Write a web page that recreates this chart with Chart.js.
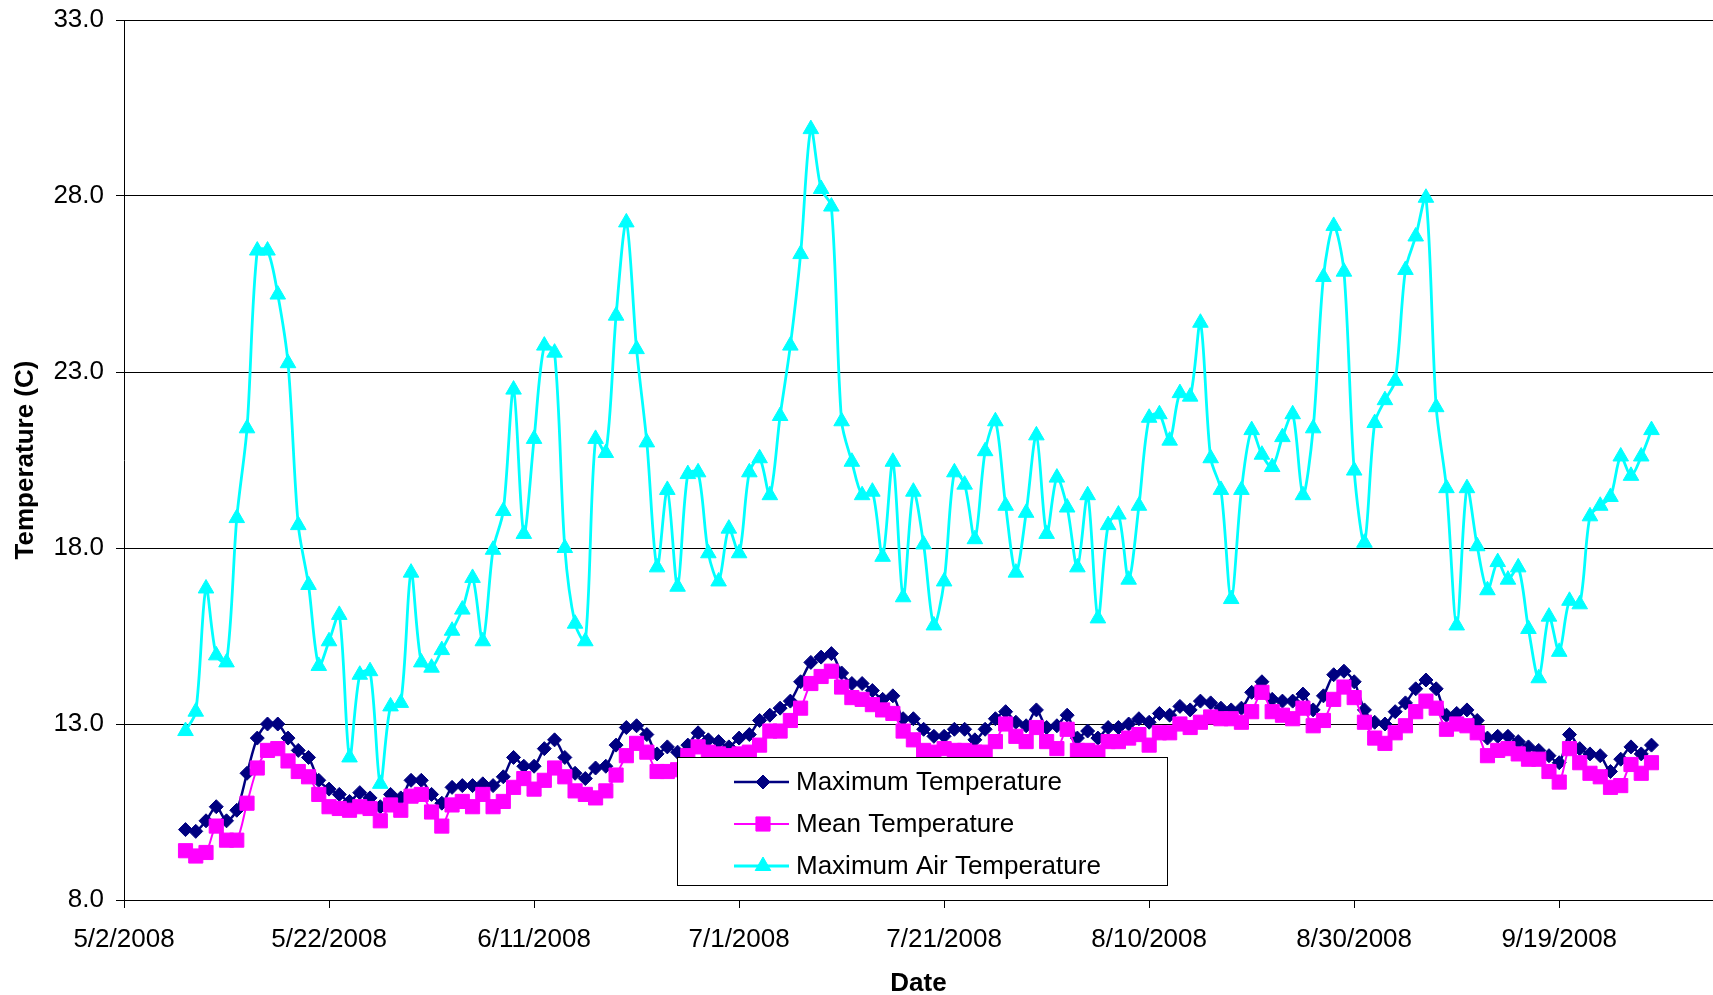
<!DOCTYPE html>
<html>
<head>
<meta charset="utf-8">
<title>Temperature</title>
<script src="https://cdn.jsdelivr.net/npm/chart.js@4.4.1/dist/chart.umd.min.js"></script>
<style>
  html, body { margin: 0; padding: 0; background: #fff; }
  #wrap { width: 1713px; height: 995px; }
</style>
</head>
<body>
<div id="wrap"><canvas id="tempChart" width="1713" height="995"></canvas></div>
<script>
// Datos (un valor por día, del 5/8/2008 al 9/28/2008)
const axisStart = '2008-05-02';
const firstDate = '2008-05-08';
const tickLabels = ['5/2/2008', '5/22/2008', '6/11/2008', '7/1/2008', '7/21/2008', '8/10/2008', '8/30/2008', '9/19/2008'];
const yTicks = [8, 13, 18, 23, 28, 33];

const maxTemp = [
  10.0, 9.95, 10.25, 10.65, 10.25, 10.55, 11.6, 12.6, 13.0, 13.0, 12.6, 12.25, 12.05, 11.4, 11.15, 11.0, 10.8, 11.05, 10.9, 10.65, 11.0, 10.9, 11.4, 11.4, 11.0,
  10.75, 11.2, 11.25, 11.25, 11.3, 11.25, 11.5, 12.05, 11.8, 11.8, 12.3, 12.55, 12.05, 11.6, 11.45, 11.75, 11.8, 12.4, 12.9, 12.95, 12.7, 12.15, 12.35, 12.2,
  12.4, 12.75, 12.55, 12.5, 12.35, 12.6, 12.7, 13.1, 13.25, 13.45, 13.65, 14.2, 14.75, 14.9, 15.0, 14.45, 14.15, 14.15, 13.95, 13.7, 13.8, 13.15, 13.15, 12.85, 12.65,
  12.65, 12.85, 12.85, 12.55, 12.85, 13.15, 13.35, 13.05, 12.95, 13.4, 12.9, 12.95, 13.25, 12.6, 12.8, 12.6, 12.9, 12.9, 13.0, 13.15, 13.05, 13.3, 13.25, 13.5,
  13.4, 13.65, 13.6, 13.45, 13.4, 13.45, 13.9, 14.2, 13.7, 13.65, 13.65, 13.85, 13.4, 13.8, 14.4, 14.5, 14.2, 13.4, 13.05, 13.0, 13.35, 13.6, 14.0, 14.25, 14.0,
  13.25, 13.3, 13.4, 13.1, 12.6, 12.65, 12.65, 12.5, 12.35, 12.25, 12.1, 11.9, 12.7, 12.3, 12.15, 12.1, 11.65, 12.0, 12.35, 12.15, 12.4
];

const meanTemp = [
  9.4, 9.25, 9.35, 10.1, 9.7, 9.7, 10.75, 11.75, 12.25, 12.3, 11.95, 11.65, 11.5, 11.0, 10.65, 10.6, 10.55, 10.65, 10.6, 10.25, 10.7, 10.55, 10.95, 11.0, 10.5,
  10.1, 10.7, 10.8, 10.65, 11.0, 10.65, 10.8, 11.2, 11.45, 11.15, 11.4, 11.75, 11.5, 11.1, 11.0, 10.9, 11.1, 11.55, 12.1, 12.45, 12.2, 11.65, 11.65, 11.7,
  12.1, 12.35, 12.2, 12.15, 12.1, 12.15, 12.2, 12.4, 12.8, 12.8, 13.1, 13.45, 14.15, 14.35, 14.5, 14.05, 13.75, 13.7, 13.55, 13.4, 13.3, 12.8, 12.55, 12.25, 12.2,
  12.3, 12.25, 12.25, 12.2, 12.2, 12.5, 13.0, 12.65, 12.5, 12.9, 12.5, 12.3, 12.85, 12.25, 12.25, 12.2, 12.5, 12.5, 12.6, 12.7, 12.4, 12.75, 12.75, 13.0,
  12.9, 13.05, 13.2, 13.15, 13.15, 13.05, 13.35, 13.9, 13.35, 13.25, 13.15, 13.45, 12.95, 13.1, 13.7, 14.05, 13.75, 13.05, 12.6, 12.45, 12.75, 12.95, 13.35, 13.65, 13.45,
  12.85, 13.0, 12.95, 12.75, 12.1, 12.25, 12.3, 12.15, 12.0, 12.0, 11.65, 11.35, 12.3, 11.9, 11.6, 11.5, 11.2, 11.25, 11.85, 11.6, 11.9
];

const maxAirTemp = [
  12.8, 13.35, 16.85, 14.95, 14.75, 18.85, 21.4, 26.45, 26.45, 25.2, 23.25, 18.65, 16.95, 14.65, 15.35, 16.1, 12.05, 14.4, 14.5, 11.3, 13.5, 13.6, 17.3, 14.75, 14.6,
  15.1, 15.65, 16.25, 17.15, 15.35, 17.95, 19.05, 22.5, 18.4, 21.1, 23.75, 23.55, 18.0, 15.85, 15.35, 21.1, 20.7, 24.6, 27.25, 23.65, 21.0, 17.45, 19.65, 16.9,
  20.1, 20.15, 17.85, 17.05, 18.55, 17.85, 20.15, 20.55, 19.5, 21.75, 23.75, 26.35, 29.9, 28.2, 27.7, 21.6, 20.45, 19.5, 19.6, 17.75, 20.45, 16.6, 19.6, 18.1, 15.8,
  17.05, 20.15, 19.8, 18.25, 20.75, 21.6, 19.2, 17.3, 19.0, 21.2, 18.4, 20.0, 19.15, 17.45, 19.5, 16.0, 18.65, 18.95, 17.1, 19.2, 21.7, 21.8, 21.05, 22.4,
  22.3, 24.4, 20.55, 19.65, 16.55, 19.65, 21.35, 20.65, 20.3, 21.15, 21.8, 19.5, 21.4, 25.7, 27.15, 25.85, 20.2, 18.15, 21.55, 22.2, 22.75, 25.9, 26.85, 27.95, 22.0,
  19.7, 15.8, 19.7, 18.05, 16.8, 17.6, 17.1, 17.45, 15.7, 14.3, 16.05, 15.05, 16.5, 16.4, 18.9, 19.2, 19.45, 20.6, 20.05, 20.6, 21.35
];

const seriesNames = ['Maximum Temperature', 'Mean Temperature', 'Maximum Air Temperature'];

// Días desde el inicio del eje para cada punto
const DAY = 86400000;
const firstOffset = (Date.parse(firstDate) - Date.parse(axisStart)) / DAY;

function toPoints(values) {
  return values.map((v, i) => ({ x: firstOffset + i, y: v }));
}

const FONT = '"Liberation Sans", Arial, sans-serif';

// Leyenda dibujada dentro del área del gráfico, como en el original
const boxLegend = {
  id: 'boxLegend',
  afterDraw(chart) {
    const ctx = chart.ctx;
    const left = 677, top = 757, w = 490, h = 128;
    ctx.save();
    ctx.fillStyle = '#ffffff';
    ctx.fillRect(left, top, w, h);
    ctx.strokeStyle = '#000000';
    ctx.lineWidth = 1;
    ctx.strokeRect(left + 0.5, top + 0.5, w, h);

    chart.data.datasets.forEach((ds, i) => {
      const y = top + 25 + i * 42;
      ctx.strokeStyle = ds.borderColor;
      ctx.lineWidth = ds.borderWidth;
      ctx.beginPath();
      ctx.moveTo(734, y);
      ctx.lineTo(789, y);
      ctx.stroke();

      ctx.fillStyle = ds.pointBackgroundColor;
      ctx.strokeStyle = ds.pointBorderColor;
      ctx.lineWidth = 1;
      Chart.helpers.drawPoint(ctx, {
        pointStyle: ds.pointStyle,
        radius: ds.pointRadius,
        rotation: 0,
        borderWidth: 1
      }, 763, y);

      ctx.fillStyle = '#000000';
      ctx.font = '26px ' + FONT;
      ctx.textAlign = 'left';
      ctx.textBaseline = 'middle';
      ctx.fillText(ds.label, 796, y + 1);
    });
    ctx.restore();
  }
};

const ctx = document.getElementById('tempChart').getContext('2d');

new Chart(ctx, {
  type: 'line',
  data: {
    datasets: [
      {
        label: seriesNames[0],
        data: toPoints(maxTemp),
        borderColor: '#000080',
        backgroundColor: '#000080',
        borderWidth: 2.5,
        pointStyle: 'rectRot',
        pointRadius: 7,
        pointBackgroundColor: '#000080',
        pointBorderColor: '#000080',
        pointBorderWidth: 1,
        tension: 0.3,
        order: 3
      },
      {
        label: seriesNames[1],
        data: toPoints(meanTemp),
        borderColor: '#ff00ff',
        backgroundColor: '#ff00ff',
        borderWidth: 2,
        pointStyle: 'rect',
        pointRadius: 10,
        pointBackgroundColor: '#ff00ff',
        pointBorderColor: '#ff00ff',
        pointBorderWidth: 1,
        tension: 0.3,
        order: 2
      },
      {
        label: seriesNames[2],
        data: toPoints(maxAirTemp),
        borderColor: '#00ffff',
        backgroundColor: '#00ffff',
        borderWidth: 2.8,
        pointStyle: 'triangle',
        pointRadius: 9,
        pointBackgroundColor: '#00ffff',
        pointBorderColor: '#00ffff',
        pointBorderWidth: 1,
        tension: 0.3,
        order: 1
      }
    ]
  },
  options: {
    responsive: false,
    animation: false,
    layout: { autoPadding: false, padding: { top: 20, right: 0, bottom: 0, left: 0 } },
    plugins: {
      legend: { display: false },
      tooltip: { enabled: false }
    },
    scales: {
      x: {
        type: 'linear',
        min: 0,
        max: 155,
        afterFit: (scale) => { scale.height = 95; },
        ticks: {
          stepSize: 20,
          includeBounds: false,
          autoSkip: false,
          maxRotation: 0,
          padding: 16,
          color: '#000',
          font: { family: FONT, size: 26 },
          callback: (v) => tickLabels[v / 20]
        },
        grid: {
          drawOnChartArea: false,
          drawTicks: true,
          tickLength: 8,
          color: '#000'
        },
        border: { display: true, color: '#000', width: 1 },
        title: {
          display: true,
          text: 'Date',
          color: '#000',
          padding: { top: 0, bottom: -2 },
          font: { family: FONT, size: 26, weight: 'bold', lineHeight: 1 }
        }
      },
      y: {
        min: 8,
        max: 33,
        afterFit: (scale) => {
          scale.width = 124;
          scale.paddingTop = 0;
          scale.paddingBottom = 0;
        },
        afterBuildTicks: (scale) => { scale.ticks = yTicks.map(v => ({ value: v })); },
        ticks: {
          padding: 12,
          color: '#000',
          font: { family: FONT, size: 26 },
          callback: (v) => v.toFixed(1)
        },
        grid: {
          drawOnChartArea: true,
          drawTicks: true,
          tickLength: 8,
          color: '#000',
          lineWidth: 1
        },
        border: { display: true, color: '#000', width: 1 },
        title: {
          display: true,
          text: 'Temperature (C)',
          color: '#000',
          padding: { top: 10, bottom: 0 },
          font: { family: FONT, size: 26, weight: 'bold' }
        }
      }
    }
  },
  plugins: [boxLegend]
});
</script>
</body>
</html>
